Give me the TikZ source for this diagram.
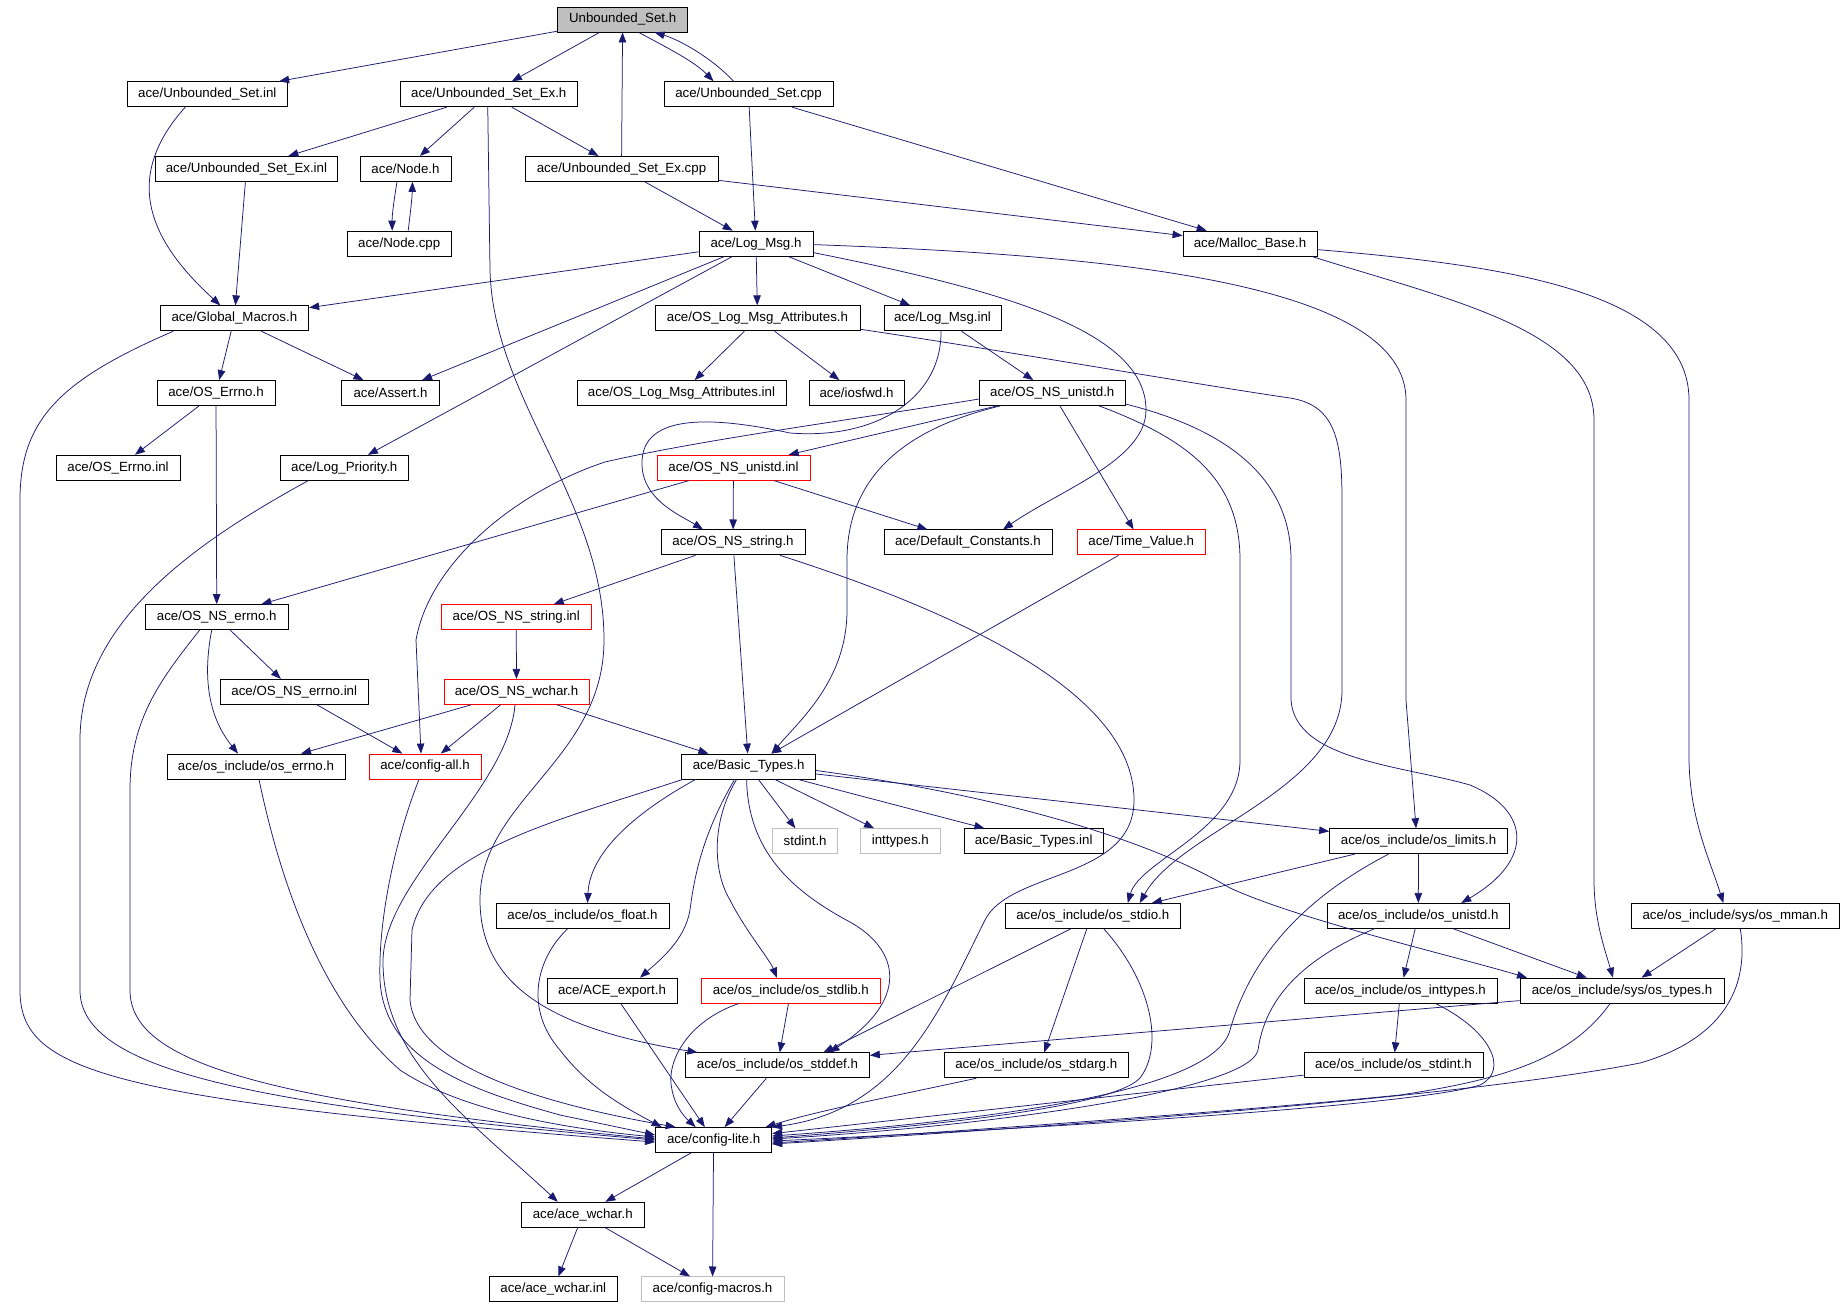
\documentclass[tikz,border=0pt]{standalone}
\usepackage{fontspec}
\newfontfamily\dotfont{Liberation Sans}
\usetikzlibrary{arrows.meta}
\definecolor{edgeblue}{HTML}{191970}
\definecolor{nodegray}{HTML}{BFBFBF}
\tikzset{
	file/.style={draw=black, line width=0.85pt, minimum height=25pt, inner sep=0pt,
		font=\dotfont\fontsize{13.3}{15}\selectfont},
	redfile/.style={file, draw=red},
	grayfile/.style={file, draw=nodegray},
	inc/.style={-{Triangle[length=10pt,width=7.5pt]}, draw=edgeblue, line width=0.75pt},
}
\begin{document}
\begin{tikzpicture}[x=1pt,y=-1pt]
		\fill[white] (0,0) rectangle (1844,1307);
		\useasboundingbox (0,0) rectangle (1844,1307);
		% files, one row every 74.7pt
		\node[file, fill=nodegray, minimum width=130.3pt] (USh) at (622.65,19.5) {Unbounded\_Set.h};
		\node[file, minimum width=160.6pt] (USinl) at (207.3,94.2) {ace/Unbounded\_Set.inl};
		\node[file, minimum width=177.5pt] (USExh) at (488.75,94.2) {ace/Unbounded\_Set\_Ex.h};
		\node[file, minimum width=169pt] (UScpp) at (748.5,94.2) {ace/Unbounded\_Set.cpp};
		\node[file, minimum width=181.9pt] (USExinl) at (246.45,168.9) {ace/Unbounded\_Set\_Ex.inl};
		\node[file, minimum width=91pt] (Nodeh) at (405.5,168.9) {ace/Node.h};
		\node[file, minimum width=193pt] (USExcpp) at (621.5,168.9) {ace/Unbounded\_Set\_Ex.cpp};
		\node[file, minimum width=103.6pt] (Nodecpp) at (399.2,243.6) {ace/Node.cpp};
		\node[file, minimum width=114pt] (LogMsgh) at (756,243.6) {ace/Log\_Msg.h};
		\node[file, minimum width=134pt] (Malloc) at (1250,243.6) {ace/Malloc\_Base.h};
		\node[file, minimum width=148.7pt] (GlobalM) at (234.35,318.3) {ace/Global\_Macros.h};
		\node[file, minimum width=205pt] (OSLMAh) at (757.5,318.3) {ace/OS\_Log\_Msg\_Attributes.h};
		\node[file, minimum width=117pt] (LogMsginl) at (942.5,318.3) {ace/Log\_Msg.inl};
		\node[file, minimum width=118pt] (OSErrnoh) at (216,393) {ace/OS\_Errno.h};
		\node[file, minimum width=98pt] (Assert) at (390.5,393) {ace/Assert.h};
		\node[file, minimum width=209pt] (OSLMAinl) at (681.5,393) {ace/OS\_Log\_Msg\_Attributes.inl};
		\node[file, minimum width=95pt] (iosfwd) at (856.5,393) {ace/iosfwd.h};
		\node[file, minimum width=145.5pt] (OSNSunistdh) at (1052.25,393) {ace/OS\_NS\_unistd.h};
		\node[file, minimum width=124pt] (OSErrnoinl) at (118,467.7) {ace/OS\_Errno.inl};
		\node[file, minimum width=128.5pt] (LogPrio) at (344.25,467.7) {ace/Log\_Priority.h};
		\node[redfile, minimum width=153pt] (OSNSunistdinl) at (733.5,467.7) {ace/OS\_NS\_unistd.inl};
		\node[file, minimum width=144pt] (OSNSstringh) at (733,542.4) {ace/OS\_NS\_string.h};
		\node[file, minimum width=168pt] (DefConst) at (968,542.4) {ace/Default\_Constants.h};
		\node[redfile, minimum width=128.5pt] (TimeValue) at (1141.25,542.4) {ace/Time\_Value.h};
		\node[file, minimum width=142.5pt] (OSNSerrnoh) at (216.75,617.1) {ace/OS\_NS\_errno.h};
		\node[redfile, minimum width=150.5pt] (OSNSstringinl) at (516.25,617.1) {ace/OS\_NS\_string.inl};
		\node[file, minimum width=148.5pt] (OSNSerrnoinl) at (294.25,691.8) {ace/OS\_NS\_errno.inl};
		\node[redfile, minimum width=145pt] (OSNSwchar) at (516.5,691.8) {ace/OS\_NS\_wchar.h};
		\node[file, minimum width=178pt] (oserrno) at (256,766.5) {ace/os\_include/os\_errno.h};
		\node[redfile, minimum width=112pt] (configall) at (425,766.5) {ace/config-all.h};
		\node[file, minimum width=134pt] (BasicTypes) at (748.6,766.5) {ace/Basic\_Types.h};
		\node[grayfile, minimum width=65.3pt] (stdint) at (805.15,841.2) {stdint.h};
		\node[grayfile, minimum width=80.6pt] (inttypes) at (900.3,841.2) {inttypes.h};
		\node[file, minimum width=139.5pt] (BasicTypesinl) at (1033.75,841.2) {ace/Basic\_Types.inl};
		\node[file, minimum width=177.9pt] (oslimits) at (1418.55,841.2) {ace/os\_include/os\_limits.h};
		\node[file, minimum width=173pt] (osfloat) at (582.5,915.9) {ace/os\_include/os\_float.h};
		\node[file, minimum width=175.6pt] (osstdio) at (1092.8,915.9) {ace/os\_include/os\_stdio.h};
		\node[file, minimum width=182.5pt] (osunistd) at (1418.25,915.9) {ace/os\_include/os\_unistd.h};
		\node[file, minimum width=208.6pt] (osmman) at (1735.3,915.9) {ace/os\_include/sys/os\_mman.h};
		\node[file, minimum width=130pt] (ACEexport) at (612,990.6) {ace/ACE\_export.h};
		\node[redfile, minimum width=179.5pt] (osstdlib) at (790.75,990.6) {ace/os\_include/os\_stdlib.h};
		\node[file, minimum width=193pt] (osinttypes) at (1400.5,990.6) {ace/os\_include/os\_inttypes.h};
		\node[file, minimum width=204pt] (ostypes) at (1622,990.6) {ace/os\_include/sys/os\_types.h};
		\node[file, minimum width=183.9pt] (osstddef) at (777.45,1065.3) {ace/os\_include/os\_stddef.h};
		\node[file, minimum width=183.5pt] (osstdarg) at (1036.25,1065.3) {ace/os\_include/os\_stdarg.h};
		\node[file, minimum width=179pt] (osstdint) at (1393.5,1065.3) {ace/os\_include/os\_stdint.h};
		\node[file, minimum width=116.2pt] (configlite) at (713.6,1140) {ace/config-lite.h};
		\node[file, minimum width=122.5pt] (acewcharh) at (582.75,1214.7) {ace/ace\_wchar.h};
		\node[file, minimum width=127.5pt] (acewcharinl) at (553.25,1289.4) {ace/ace\_wchar.inl};
		\node[grayfile, minimum width=143pt] (configmacros) at (712.5,1289.4) {ace/config-macros.h};
		% top rows
		\draw[inc] (USh) -- (USinl);
		\draw[inc] (USh) -- (USExh);
		\draw[inc] ([xshift=16pt]USh.south) .. controls (668,48) and (695,62) .. ([xshift=-35pt]UScpp.north);
		\draw[inc] ([xshift=-15pt]UScpp.north) .. controls (712,58) and (680,40) .. ([xshift=32pt]USh.south);
		\draw[inc] (USExcpp) -- (USh);
		\draw[inc] ([xshift=-22pt]USinl.south) .. controls (115,185) and (160,250) .. ([xshift=-14pt]GlobalM.north);
		\draw[inc] (USExh) -- (USExinl);
		\draw[inc] (USExh) -- (Nodeh);
		\draw[inc] (USExh) -- (USExcpp);
		\draw[inc] ([xshift=-1pt]USExh.south) -- (490,270) .. controls (493,400) and (604,500) .. (604,640) .. controls (604,760) and (480,800) .. (480,900) .. controls (480,990) and (560,1030) .. ([xshift=-80pt]osstddef.north);
		\draw[inc] ([xshift=-8.5pt]Nodeh.south) .. controls (394,200) and (392,215) .. ([xshift=-7pt]Nodecpp.north);
		\draw[inc] ([xshift=9pt]Nodecpp.north) .. controls (410,215) and (412,200) .. ([xshift=7pt]Nodeh.south);
		\draw[inc] (UScpp) -- (LogMsgh);
		\draw[inc] (UScpp) -- (Malloc);
		\draw[inc] (USExcpp) -- (LogMsgh);
		\draw[inc] (USExcpp) -- (Malloc);
		\draw[inc] (USExinl) -- (GlobalM);
		% Log_Msg.h
		\draw[inc] (LogMsgh) -- (GlobalM);
		\draw[inc] (LogMsgh) -- (Assert);
		\draw[inc] (LogMsgh) -- (LogPrio);
		\draw[inc] (LogMsgh) -- (OSLMAh);
		\draw[inc] (LogMsgh) -- (LogMsginl);
		\draw[inc] ([yshift=-9pt]LogMsgh.east) .. controls (1000,290) and (1146,330) .. (1146,410) .. controls (1146,460) and (1060,490) .. ([xshift=35pt]DefConst.north);
		\draw[inc] ([yshift=-1pt]LogMsgh.east) .. controls (1100,255) and (1406,280) .. (1406,400) -- (1406,700) -- ([xshift=-2.5pt]oslimits.north);
		% Malloc_Base.h
		\draw[inc] ([xshift=62pt]Malloc.south) .. controls (1450,300) and (1594,330) .. (1594,420) -- (1594,880) .. controls (1594,920) and (1605,950) .. ([xshift=-9pt]ostypes.north);
		\draw[inc] ([yshift=-6pt]Malloc.east) .. controls (1500,265) and (1689,290) .. (1689,400) -- (1689,760) .. controls (1690,820) and (1710,860) .. ([xshift=-12pt]osmman.north);
		% Global_Macros.h and below
		\draw[inc] (GlobalM) -- (OSErrnoh);
		\draw[inc] (GlobalM) -- (Assert);
		\draw[inc] ([xshift=-61pt]GlobalM.south) .. controls (60,380) and (20,420) .. (20,500) -- (20,990) .. controls (20,1070) and (100,1100) .. ([yshift=-2pt]configlite.west);
		\draw[inc] (OSErrnoh) -- (OSErrnoinl);
		\draw[inc] (OSErrnoh) -- (OSNSerrnoh);
		\draw[inc] ([xshift=-36pt]LogPrio.south) .. controls (200,540) and (80,620) .. (80,740) -- (80,990) .. controls (80,1070) and (250,1105) .. (configlite.west);
		\draw[inc] (OSLMAh) -- (OSLMAinl);
		\draw[inc] (OSLMAh) -- (iosfwd);
		\draw[inc] ([yshift=-11pt]OSLMAh.east) .. controls (1000,350) and (1200,385) .. (1290,398) .. controls (1335,405) and (1342,440) .. (1342,500) -- (1342,690) .. controls (1342,790) and (1180,830) .. ([xshift=47pt]osstdio.north);
		\draw[inc] (LogMsginl) -- (OSNSunistdh);
		\draw[inc] ([xshift=-1.5pt]LogMsginl.south) .. controls (942,395) and (880,440) .. (790,433) .. controls (720,418) and (640,410) .. (642,465) .. controls (643,500) and (680,515) .. ([xshift=-30pt]OSNSstringh.north);
		% OS_NS_unistd.h
		\draw[inc] (OSNSunistdh) -- (OSNSunistdinl);
		\draw[inc] (OSNSunistdh) -- (TimeValue);
		\draw[inc] ([yshift=-6pt]OSNSunistdh.west) .. controls (850,420) and (700,440) .. (605,462) .. controls (520,490) and (430,560) .. (416,640) -- ([xshift=-4pt]configall.north);
		\draw[inc] ([xshift=-52pt]OSNSunistdh.south) .. controls (900,430) and (847,480) .. (847,560) -- (847,610) .. controls (847,680) and (800,720) .. ([xshift=23pt]BasicTypes.north);
		\draw[inc] ([xshift=47pt]OSNSunistdh.south) .. controls (1190,440) and (1240,480) .. (1240,560) -- (1240,760) .. controls (1240,830) and (1140,860) .. ([xshift=35pt]osstdio.north);
		\draw[inc] ([yshift=-11pt]OSNSunistdh.east) .. controls (1230,430) and (1291,480) .. (1291,560) -- (1291,700) .. controls (1295,760) and (1400,765) .. (1470,785) .. controls (1530,810) and (1535,860) .. ([xshift=43pt]osunistd.north);
		\draw[inc] (OSNSunistdinl) -- (OSNSerrnoh);
		\draw[inc] (OSNSunistdinl) -- (OSNSstringh);
		\draw[inc] (OSNSunistdinl) -- (DefConst);
		% OS_NS_string.h
		\draw[inc] (OSNSstringh) -- (OSNSstringinl);
		\draw[inc] (OSNSstringh) -- (BasicTypes);
		\draw[inc] ([xshift=47pt]OSNSstringh.south) .. controls (950,610) and (1134,690) .. (1134,800) .. controls (1134,880) and (1010,870) .. (985,920) .. controls (940,1010) and (900,1110) .. (configlite.north east);
		\draw[inc] (TimeValue) -- (BasicTypes);
		\draw[inc] (OSNSstringinl) -- (OSNSwchar);
		% errno files
		\draw[inc] (OSNSerrnoh) -- (OSNSerrnoinl);
		\draw[inc] ([xshift=-5pt]OSNSerrnoh.south) .. controls (200,690) and (215,725) .. ([xshift=-18pt]oserrno.north);
		\draw[inc] ([xshift=-17pt]OSNSerrnoh.south) .. controls (160,680) and (130,720) .. (130,790) -- (130,990) .. controls (130,1060) and (250,1100) .. ([yshift=1pt]configlite.west);
		\draw[inc] (OSNSerrnoinl) -- (configall);
		% OS_NS_wchar.h
		\draw[inc] (OSNSwchar) -- (oserrno);
		\draw[inc] (OSNSwchar) -- (configall);
		\draw[inc] (OSNSwchar) -- (BasicTypes);
		\draw[inc] ([xshift=-1.5pt]OSNSwchar.south) .. controls (508,790) and (385,880) .. (383,960) .. controls (382,1060) and (470,1120) .. ([xshift=-25pt]acewcharh.north);
		\draw[inc] ([xshift=3pt]oserrno.south) .. controls (280,880) and (320,1000) .. (400,1070) .. controls (460,1110) and (560,1128) .. ([yshift=3pt]configlite.west);
		\draw[inc] ([xshift=-6pt]configall.south) .. controls (395,840) and (378,920) .. (380,980) .. controls (384,1060) and (470,1090) .. (560,1115) -- ([yshift=5pt]configlite.west);
		% Basic_Types.h
		\draw[inc] (BasicTypes) -- (stdint);
		\draw[inc] (BasicTypes) -- (inttypes);
		\draw[inc] (BasicTypes) -- (BasicTypesinl);
		\draw[inc] (BasicTypes) -- (oslimits);
		\draw[inc] ([yshift=-4pt]BasicTypes.east) .. controls (1000,795) and (1150,840) .. (1230,888) .. controls (1300,920) and (1450,955) .. ([xshift=-95pt]ostypes.north);
		\draw[inc] ([xshift=-66pt]BasicTypes.south) .. controls (560,820) and (430,850) .. (412,930) -- (410,1000) .. controls (415,1060) and (520,1100) .. ([xshift=-38pt]configlite.north);
		\draw[inc] ([xshift=-53pt]BasicTypes.south) .. controls (640,810) and (590,850) .. ([xshift=5pt]osfloat.north);
		\draw[inc] ([xshift=-14pt]BasicTypes.south) .. controls (705,830) and (695,870) .. (690,910) .. controls (685,940) and (660,960) .. ([xshift=28pt]ACEexport.north);
		\draw[inc] ([xshift=-12pt]BasicTypes.south) .. controls (712,820) and (712,870) .. (730,900) .. controls (745,930) and (770,960) .. ([xshift=-14pt]osstdlib.north);
		\draw[inc] ([xshift=-2pt]BasicTypes.south) .. controls (748,850) and (790,890) .. (850,922) .. controls (900,950) and (910,1000) .. ([xshift=52pt]osstddef.north);
		% os_include files
		\draw[inc] ([xshift=-15pt]osfloat.south) .. controls (535,960) and (525,1010) .. (560,1050) .. controls (590,1090) and (630,1110) .. ([xshift=-52pt]configlite.north);
		\draw[inc] (ACEexport) -- (configlite);
		\draw[inc] (osstdlib) -- (osstddef);
		\draw[inc] ([xshift=-52pt]osstdlib.south) .. controls (690,1020) and (665,1060) .. (672,1090) .. controls (676,1110) and (688,1120) .. ([xshift=-18pt]configlite.north);
		\draw[inc] (osstddef) -- (configlite);
		\draw[inc] ([xshift=-22pt]osstdio.south) -- ([xshift=46pt]osstddef.north);
		\draw[inc] ([xshift=-6pt]osstdio.south) -- ([xshift=8pt]osstdarg.north);
		\draw[inc] ([xshift=11pt]osstdio.south) .. controls (1150,980) and (1165,1045) .. (1140,1078) .. controls (1110,1110) and (900,1128) .. ([yshift=2pt]configlite.east);
		\draw[inc] ([xshift=-60pt]osstdarg.south) .. controls (900,1095) and (820,1110) .. ([xshift=52pt]configlite.north);
		\draw[inc] (oslimits) -- (osunistd);
		\draw[inc] ([xshift=-64pt]oslimits.south) -- ([xshift=59pt]osstdio.north);
		\draw[inc] ([xshift=-30pt]oslimits.south) .. controls (1300,900) and (1250,960) .. (1230,1030) .. controls (1215,1090) and (1000,1120) .. ([yshift=4pt]configlite.east);
		\draw[inc] (osunistd) -- (osinttypes);
		\draw[inc] (osunistd) -- (ostypes);
		\draw[inc] ([xshift=-44pt]osunistd.south) .. controls (1300,960) and (1265,1000) .. (1258,1050) .. controls (1250,1090) and (1000,1125) .. ([yshift=1pt]configlite.east);
		\draw[inc] (osmman) -- (ostypes);
		\draw[inc] ([xshift=5pt]osmman.south) .. controls (1750,990) and (1720,1040) .. (1640,1063) .. controls (1450,1100) and (1000,1130) .. ([yshift=-4pt]configlite.east);
		\draw[inc] (osinttypes) -- (osstdint);
		\draw[inc] ([xshift=35pt]osinttypes.south) .. controls (1490,1030) and (1510,1070) .. (1480,1085) .. controls (1400,1110) and (900,1135) .. ([yshift=-1pt]configlite.east);
		\draw[inc] ([yshift=-10pt]ostypes.west) -- ([yshift=10pt]osstddef.east);
		\draw[inc] ([xshift=-12pt]ostypes.south) .. controls (1570,1060) and (1500,1080) .. (1400,1095) .. controls (1200,1115) and (900,1135) .. ([yshift=-3pt]configlite.east);
		\draw[inc] (osstdint) -- (configlite);
		% config files
		\draw[inc] (configlite) -- (acewcharh);
		\draw[inc] (configlite) -- (configmacros);
		\draw[inc] (acewcharh) -- (acewcharinl);
		\draw[inc] (acewcharh) -- (configmacros);
	\end{tikzpicture}
\end{document}
